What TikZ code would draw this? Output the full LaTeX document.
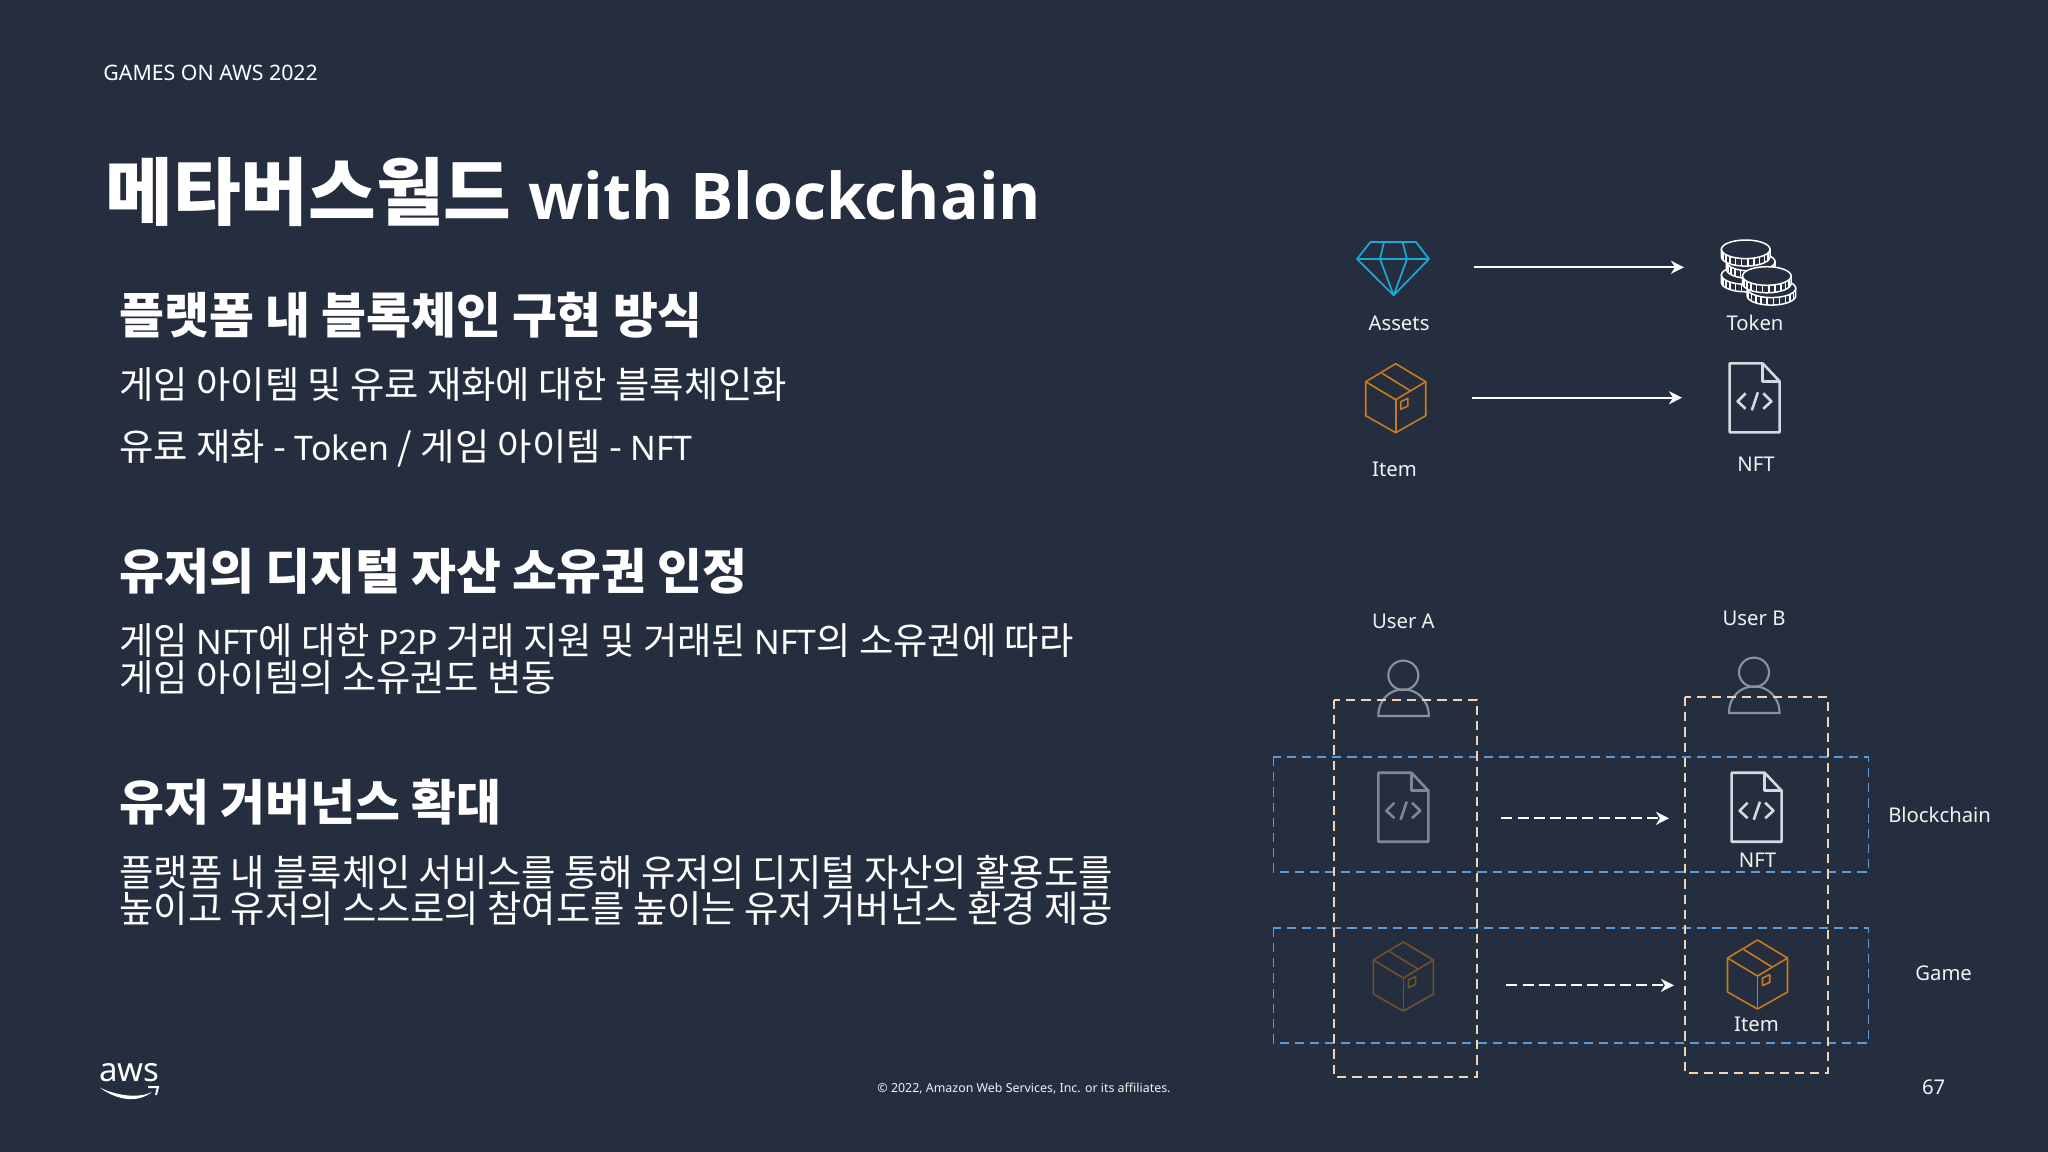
\documentclass[tikz,border=0pt]{standalone}
\usepackage{fontspec}
\setmainfont{Noto Sans CJK KR}
\newfontfamily\lat{Noto Sans}
\newfontfamily\latb{Open Sans}[BoldFont={Open Sans Bold}]
\newcommand{\blat}[1]{{\lat\fontsize{16.9}{20}\selectfont #1}}
\usetikzlibrary{arrows.meta}
\definecolor{bgc}{HTML}{252E3F}
\definecolor{cyanc}{HTML}{1AA9DC}
\definecolor{orangec}{HTML}{C87B1E}
\definecolor{orangef}{HTML}{6E5232}
\definecolor{docc}{HTML}{D5DAE0}
\definecolor{docf}{HTML}{7F8892}
\definecolor{userc}{HTML}{8B939B}
\definecolor{peach}{HTML}{F5D2B4}
\definecolor{blued}{HTML}{5B9AD2}
\tikzset{
  txt/.style={inner sep=0pt,anchor=base west,text=white},
  lbl/.style={inner sep=0pt,anchor=center,text=white!95!black,font=\lat\fontsize{10.15}{13}\selectfont},
  headtxt/.style={txt,font=\bfseries\fontsize{24.4}{29}\selectfont},
  bodytxt/.style={txt,font=\fontsize{18.65}{22}\selectfont},
  arrowsolid/.style={draw=white,line width=1pt,-{Stealth[length=6.5pt,width=6.5pt,inset=2pt]}},
  arrowdash/.style={arrowsolid,dash pattern=on 5.5pt off 2.6pt},
  peachbox/.style={draw=peach,line width=0.85pt,dash pattern=on 4.6pt off 3pt},
  bluebox/.style={draw=blued,line width=0.85pt,dash pattern=on 4.6pt off 3pt},
}
\newcommand{\docicon}[3]{%
\begin{scope}[shift={(#1,#2)},draw=#3,line width=1.3pt,line join=round]
\draw (0,0) -- (33,0) -- (50,18) -- (50,69) -- (0,69) -- cycle;
\draw (33,0) -- (33,18) -- (50,18);
\draw (16,30) -- (8,38) -- (16,45.5);
\draw (33.6,30) -- (41.8,38) -- (33.6,45.5);
\draw (28.3,29) -- (22.2,47);
\end{scope}}
\newcommand{\boxicon}[3]{%
\begin{scope}[shift={(#1,#2)},draw=#3,line width=0.8pt,line join=round]
\draw (0,0) -- (30,18) -- (30,52) -- (0,69) -- (-30,52) -- (-30,18) -- cycle;
\draw (-30,18) -- (0,36) -- (30,18);
\draw (0,36) -- (0,69);
\draw (-13.6,9.6) -- (15,27.3);
\draw (5,38) -- (12.2,34.6) -- (12.2,42.3) -- (5,45.6) -- cycle;
\end{scope}}
\newcommand{\usericon}[2]{%
\begin{scope}[shift={(#1,#2)},draw=userc,line width=1.05pt]
\draw (0,0) ellipse [x radius=15,y radius=14.7];
\draw (-25,40.7) .. controls (-25,24) and (-13,14) .. (0,14) .. controls (13,14) and (25.5,24) .. (25.5,40.7) -- cycle;
\end{scope}}
\newcommand{\coin}[2]{%
\begin{scope}[shift={(#1,#2)},draw=white,line width=0.75pt]
\filldraw[fill=bgc] (-24.3,0) -- (-24.3,7.5) arc [start angle=180,end angle=0,x radius=24.3,y radius=9.3] -- (24.3,0) -- cycle;
\foreach \a in {25,40,...,160}{\draw ({24.3*cos(\a)},{9.3*sin(\a)}) -- ({24.3*cos(\a)},{7.5+9.3*sin(\a)});}
\filldraw[fill=bgc] (0,0) ellipse [x radius=24.3,y radius=9.3];
\end{scope}}
\begin{document}
\begin{tikzpicture}[x=0.5pt,y=-0.5pt]
\useasboundingbox (0,0) rectangle (2048,1151.7);
\fill[bgc] (-6,-6) rectangle (2054,1158);

\node[txt,font=\lat\fontsize{10.65}{13}\selectfont] (hdr) at (103,80) {GAMES ON AWS 2022};
\node[txt,font=\bfseries\fontsize{36.8}{44}\selectfont] (title) at (105,219) {메타버스월드 {\latb\bfseries\fontsize{32.2}{40}\selectfont with Blockchain}};

\node[headtxt] (h1) at (119,333.5) {플랫폼 내 블록체인 구현 방식};
\node[bodytxt] (b1) at (119,398.5) {게임 아이템 및 유료 재화에 대한 블록체인화};
\node[bodytxt] (b2) at (119,460.5) {유료 재화 - \blat{Token} / 게임 아이템 - \blat{NFT}};
\node[headtxt] (h2) at (119,589.5) {유저의 디지털 자산 소유권 인정};
\node[bodytxt] (b3) at (119,654.5) {게임 \blat{NFT}에 대한 \blat{P2P} 거래 지원 및 거래된 \blat{NFT}의 소유권에 따라};
\node[bodytxt] (b4) at (119,691.5) {게임 아이템의 소유권도 변동};
\node[headtxt] (h3) at (119,820.5) {유저 거버넌스 확대};
\node[bodytxt] (b5) at (119,886.5) {플랫폼 내 블록체인 서비스를 통해 유저의 디지털 자산의 활용도를};
\node[bodytxt] (b6) at (119,922.5) {높이고 유저의 스스로의 참여도를 높이는 유저 거버넌스 환경 제공};

% upper icons
\begin{scope}[draw=cyanc,line width=0.85pt,line join=round]
\draw (1370.4,242) -- (1416,242) -- (1429,259) -- (1393.6,295.3) -- (1357,259) -- cycle;
\draw (1357,259) -- (1429,259);
\draw (1384,242) -- (1380,259) -- (1393.6,295.3) -- (1407,259) -- (1402.5,242);
\end{scope}
\coin{1745.7}{275}
\coin{1750.7}{261.7}
\coin{1745.7}{249.3}
\coin{1771.4}{288.3}
\coin{1766.8}{276}
\boxicon{1395.7}{363.7}{orangec}
\docicon{1729.6}{363.3}{docc}

\coordinate (a1s) at (1474,267.3); \coordinate (a1e) at (1684,267.3);
\coordinate (a2s) at (1472,397.7); \coordinate (a2e) at (1682,397.7);
\draw[arrowsolid] (a1s) -- (a1e);
\draw[arrowsolid] (a2s) -- (a2e);

\node[lbl] (assets) at (1399,323.3) {Assets};
\node[lbl] (token) at (1755,322.7) {Token};
\node[lbl] (item1) at (1394.5,469.3) {Item};
\node[lbl] (nft1) at (1756,464) {NFT};

% lower
\node[lbl] (usera) at (1403.3,621.7) {User A};
\node[lbl] (userb) at (1754,618.3) {User B};
\usericon{1403.3}{675.3}
\usericon{1754}{672.3}
\docicon{1378.4}{772.7}{docf}
\docicon{1731.6}{772.7}{docc}
\boxicon{1403.3}{942}{orangef}
\boxicon{1757.5}{940}{orangec}

\draw[bluebox] (1273.4,757) rectangle (1868.5,872.3);
\draw[bluebox] (1273.4,927.7) rectangle (1868.5,1043);
\draw[peachbox] (1334.1,699.7) rectangle (1476.9,1076.7);
\draw[peachbox] (1684.9,697) rectangle (1828.2,1073.3);

\coordinate (a3s) at (1501.3,818.3); \coordinate (a3e) at (1669,818.3);
\coordinate (a4s) at (1506.3,985.3); \coordinate (a4e) at (1674,985.3);
\draw[arrowdash] (a3s) -- (a3e);
\draw[arrowdash] (a4s) -- (a4e);

\node[lbl] (nft2) at (1757.5,860) {NFT};
\node[lbl] (item2) at (1756.5,1024.3) {Item};
\node[lbl] (chain) at (1939.6,815) {Blockchain};
\node[lbl] (game) at (1943.6,973.3) {Game};

% footer
\node[lbl,font=\lat\fontsize{6.2}{8}\selectfont] (copy) at (1024,1088.5) {© 2022, Amazon Web Services, Inc. or its affiliates.};
\node[lbl] (page) at (1933.6,1087.3) {67};
\node[inner sep=0pt,text=white,font=\lat\fontsize{16.5}{20}\selectfont] (aws) at (129.5,1073) {aws};
\fill[white] (100,1087.7) .. controls (118,1101) and (138,1103) .. (152,1092) .. controls (138,1098.5) and (118,1096) .. (100,1087.7) -- cycle;
\draw[white,line width=1pt] (148,1087) -- (158,1087) -- (156,1095);
\end{tikzpicture}
\end{document}
